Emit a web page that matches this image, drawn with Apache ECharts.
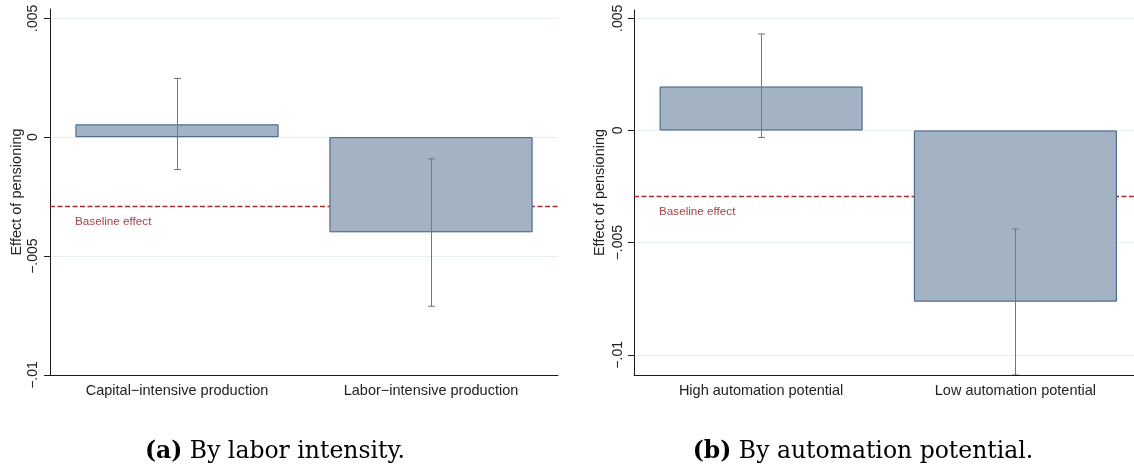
<!DOCTYPE html>
<html>
<head>
<meta charset="utf-8">
<script src="https://cdn.jsdelivr.net/npm/echarts@6/dist/echarts.min.js"></script>
<style>
html,body{margin:0;padding:0;background:#fff;}
#chart{width:1134px;height:465px;}
</style>
</head>
<body>
<div id="chart"></div>
<script>
// ---- data ----
const catsA = ['Capital\u2212intensive production', 'Labor\u2212intensive production'];
const effA  = [0.00054, -0.0040];
const loA   = [-0.00136, -0.00711];
const hiA   = [0.00247, -0.00091];

const catsB = ['High automation potential', 'Low automation potential'];
const effB  = [0.00196, -0.00763];
const loB   = [-0.00031, -0.0109];
const hiB   = [0.0043, -0.00439];

const baselineEffect = -0.0029;
const baselineLabel = 'Baseline effect';

const yTicks = [-0.01, -0.005, 0, 0.005];
const yTickLabels = ['\u2212.01', '\u2212.005', '0', '.005'];
const yRangeA = [-0.01, 0.00539];
const yRangeB = [-0.0109, 0.00537];
// panel (b) is cut at the right edge: visible category span
const xRangeB = [-0.5, 1.4666];

const yTitle = 'Effect of pensioning';
const captionA = ['(a)', 'By labor intensity.'];
const captionB = ['(b)', 'By automation potential.'];

// ---- styles ----
const FONT = '"Liberation Sans", Arial, Helvetica, sans-serif';
const AXIS_COLOR = '#1a1a1a';
const GRID_COLOR = '#e8eff1';
const BAR_FILL = '#a3b3c3';
const BAR_EDGE = '#3a5b80';
const ERR_COLOR = '#777777';
const BASE_COLOR = '#9e3035';

function tickLabel(v) {
  let best = -1, bd = Infinity;
  yTicks.forEach((t, i) => { const d = Math.abs(t - v); if (d < bd) { bd = d; best = i; } });
  return bd < 1e-7 ? yTickLabels[best] : '';
}

function yAxisDef(gridIndex, range, nameGap, margin) {
  return {
    type: 'value', gridIndex, min: range[0], max: range[1],
    name: yTitle, nameLocation: 'middle', nameGap: nameGap,
    nameTextStyle: { fontFamily: FONT, fontSize: 14.5, color: '#222' },
    axisLine: { show: true, onZero: false, lineStyle: { color: AXIS_COLOR, width: 1 } },
    axisTick: { show: true, length: 6, customValues: yTicks, lineStyle: { color: AXIS_COLOR } },
    axisLabel: { customValues: yTicks, rotate: 90, margin: margin, formatter: tickLabel,
      fontFamily: FONT, fontSize: 14, color: '#222' },
    splitLine: { show: true, lineStyle: { color: GRID_COLOR, width: 1 } }
  };
}

function xAxisCat(gridIndex, cats) {
  return {
    type: 'category', gridIndex, data: cats, boundaryGap: true,
    axisLine: { show: true, onZero: false, lineStyle: { color: AXIS_COLOR, width: 1 } },
    axisTick: { show: false },
    axisLabel: { margin: 8, fontFamily: FONT, fontSize: 14.5, color: '#222', interval: 0 },
    splitLine: { show: false }
  };
}

function xAxisVal(gridIndex, cats, range) {
  return {
    type: 'value', gridIndex, min: range[0], max: range[1],
    axisLine: { show: true, onZero: false, lineStyle: { color: AXIS_COLOR, width: 1 } },
    axisTick: { show: false },
    axisLabel: { customValues: cats.map((c, i) => i), margin: 8, fontFamily: FONT, fontSize: 14.5,
      color: '#222', formatter: v => cats[Math.round(v)] || '' },
    splitLine: { show: false }
  };
}

function barSeries(idx, vals, width, asPairs) {
  return {
    type: 'bar', xAxisIndex: idx, yAxisIndex: idx,
    data: asPairs ? vals.map((v, i) => [i, v]) : vals,
    barWidth: width, z: 2,
    itemStyle: { color: BAR_FILL, borderColor: BAR_EDGE, borderWidth: 1 },
    silent: true, animation: false
  };
}

function baseSeries(idx) {
  return {
    type: 'custom', xAxisIndex: idx, yAxisIndex: idx, data: [[0, baselineEffect]], z: 1,
    silent: true, animation: false, clip: false,
    renderItem: function (params, api) {
      const cs = params.coordSys;
      const y = Math.round(api.coord([api.value(0), api.value(1)])[1]) + 0.5;
      return {
        type: 'group',
        children: [
          { type: 'line', shape: { x1: cs.x, y1: y, x2: cs.x + cs.width, y2: y },
            style: { stroke: BASE_COLOR, lineWidth: 1.5, lineDash: [5, 2.5] } },
          { type: 'text', x: cs.x + 25, y: y + 9,
            style: { text: baselineLabel, fill: '#a5424a', font: '11.7px ' + FONT,
              textAlign: 'left', textVerticalAlign: 'top' } }
        ]
      };
    }
  };
}

function errSeries(idx, lo, hi) {
  const data = lo.map((l, i) => [i, l, hi[i]]);
  return {
    type: 'custom', xAxisIndex: idx, yAxisIndex: idx, data: data, z: 3, clip: true,
    silent: true, animation: false,
    renderItem: function (params, api) {
      const x = api.value(0);
      const p1 = api.coord([x, api.value(1)]);
      const p2 = api.coord([x, api.value(2)]);
      const cx = Math.round(p1[0]) + 0.5;
      const cap = 3.5;
      const st = { stroke: ERR_COLOR, lineWidth: 1 };
      return {
        type: 'group',
        children: [
          { type: 'line', shape: { x1: cx, y1: p1[1], x2: cx, y2: p2[1] }, style: st },
          { type: 'line', shape: { x1: cx - cap, y1: p1[1], x2: cx + cap, y2: p1[1] }, style: st },
          { type: 'line', shape: { x1: cx - cap, y1: p2[1], x2: cx + cap, y2: p2[1] }, style: st }
        ]
      };
    }
  };
}

function caption(parts, center) {
  return {
    text: '{b|' + parts[0] + '} ' + parts[1],
    left: center, top: 435, textAlign: 'center',
    textStyle: {
      fontFamily: '"DejaVu Serif", serif', fontSize: 23.5, fontWeight: 'normal', color: '#000',
      rich: { b: { fontFamily: '"DejaVu Serif", serif', fontSize: 23.5, fontWeight: 'bold', color: '#000' } }
    }
  };
}

const chart = echarts.init(document.getElementById('chart'), null, { renderer: 'canvas' });
chart.setOption({
  backgroundColor: '#fff',
  animation: false,
  title: [caption(captionA, 270), caption(captionB, 858)],
  grid: [
    { left: 50, top: 9, width: 508, height: 366, containLabel: false },
    { left: 634, top: 10, right: 0, height: 365, containLabel: false }
  ],
  xAxis: [xAxisCat(0, catsA), xAxisVal(1, catsB, xRangeB)],
  yAxis: [yAxisDef(0, yRangeA, 26, 10), yAxisDef(1, yRangeB, 27, 9)],
  series: [
    baseSeries(0), barSeries(0, effA, '80%', false), errSeries(0, loA, hiA),
    baseSeries(1), barSeries(1, effB, 203, true), errSeries(1, loB, hiB)
  ]
});
</script>
</body>
</html>
